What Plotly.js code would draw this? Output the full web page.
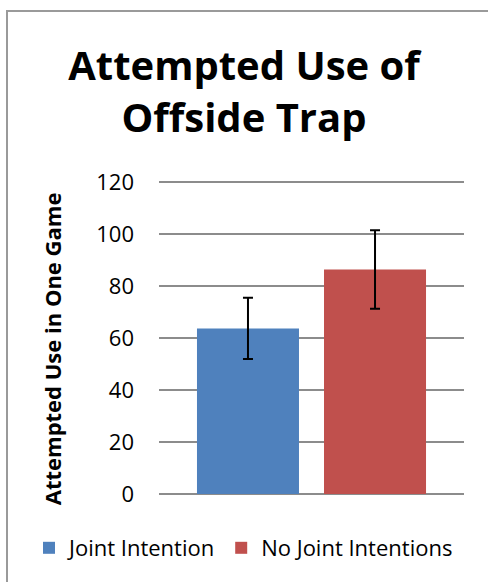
<!DOCTYPE html>
<html>
<head>
<meta charset="utf-8">
<script src="https://cdn.plot.ly/plotly-3.0.1.min.js"></script>
<style>
html,body{margin:0;padding:0;background:#fff;}
#frame{position:absolute;left:6px;top:10px;width:600px;height:700px;border-left:2px solid #9a9a9a;border-top:2px solid #9a9a9a;pointer-events:none;z-index:5;}
#chart{position:absolute;left:0;top:0;width:488px;height:582px;}
</style>
</head>
<body>
<div id="chart"></div>
<div id="frame"></div>
<script>
const category = ["Offside Trap"];
const seriesNames = ["Joint Intention", "No Joint Intentions"];
const jointValues = [63.7];
const jointErrors = [11.8];
const noJointValues = [86.4];
const noJointErrors = [15.1];
const yTicks = [0, 20, 40, 60, 80, 100, 120];

const font = "'Open Sans', 'Noto Sans', sans-serif";

const errStyle = {type: "data", visible: true, color: "#000", thickness: 2, width: 5};

const traces = [
  {type: "bar", name: seriesNames[0], x: category, y: jointValues,
   marker: {color: "#4F81BD"}, error_y: Object.assign({array: jointErrors}, errStyle)},
  {type: "bar", name: seriesNames[1], x: category, y: noJointValues,
   marker: {color: "#C0504D"}, error_y: Object.assign({array: noJointErrors}, errStyle)}
];

const layout = {
  width: 488, height: 582,
  margin: {l: 159, r: 24, t: 181, b: 88},
  paper_bgcolor: "#fff", plot_bgcolor: "#fff",
  font: {family: font, color: "#000"},
  title: {text: "<b>Attempted Use of<br>Offside Trap</b>", font: {size: 40, family: font, color: "#000"},
          x: 0.5, xref: "container", xanchor: "center", y: 1 - 80/582, yref: "container", yanchor: "middle"},
  barmode: "group", bargap: 0.167, bargroupgap: 0.197,
  xaxis: {showticklabels: false, showgrid: false, zeroline: false, showline: false, ticks: ""},
  yaxis: {range: [0, 120.4], tickvals: yTicks, ticktext: yTicks.map(String),
          showgrid: true, gridcolor: "#8c8c8c", gridwidth: 1.5, zeroline: true, zerolinecolor: "#8c8c8c", zerolinewidth: 1.5,
          showline: false, ticks: "", ticklabelstandoff: 24,
          tickfont: {size: 22, family: font, color: "#000"},
          title: {text: "<b>Attempted Use in One Game\u00a0\u00a0\u00a0\u00a0</b>", font: {size: 22, family: font, color: "#000"}, standoff: 28}},
  showlegend: true,
  legend: {orientation: "h", xref: "paper", yref: "paper", x: (29 - 159) / 305, xanchor: "left", y: (494 - 548) / 313, yanchor: "middle",
           font: {size: 22, family: font, color: "#000"}, tracegroupgap: 0, traceorder: "normal"}
};

Plotly.newPlot("chart", traces, layout, {displayModeBar: false, staticPlot: true});
</script>
</body>
</html>
